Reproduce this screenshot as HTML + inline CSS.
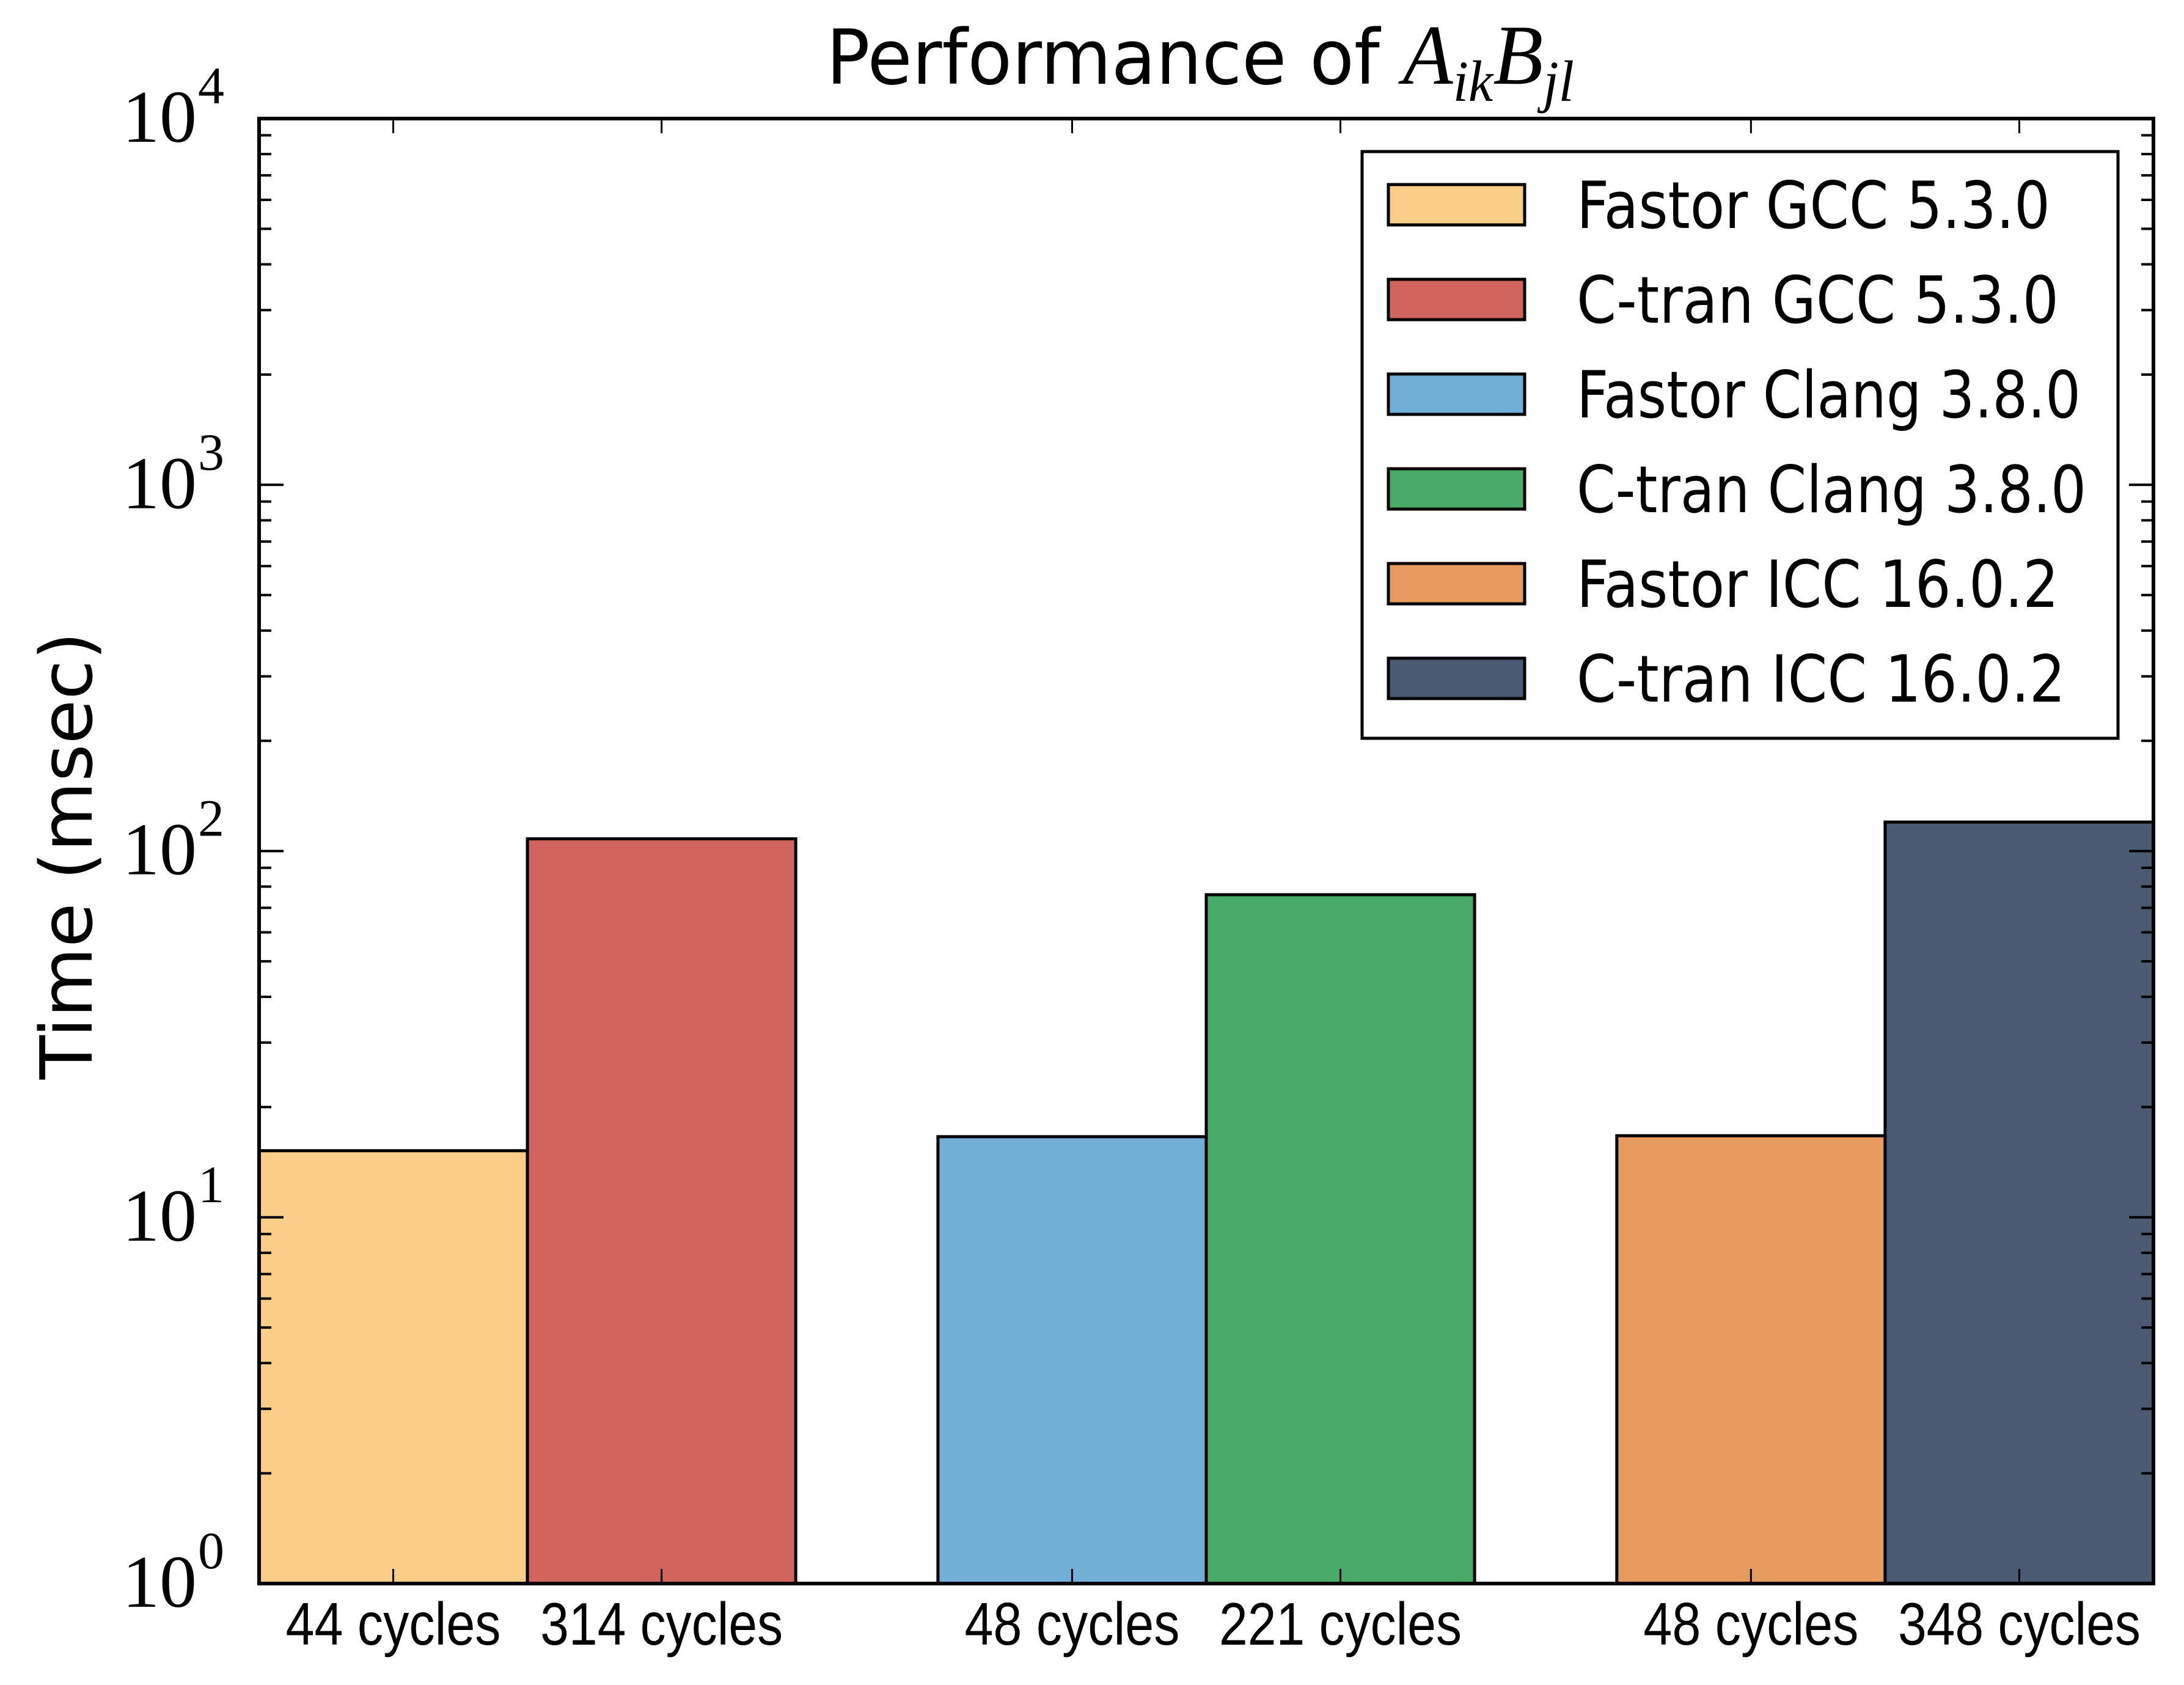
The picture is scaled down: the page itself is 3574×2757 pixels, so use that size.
<!DOCTYPE html>
<html><head><meta charset="utf-8"><style>
html,body{margin:0;padding:0;background:#fff}
svg{display:block}
.t{font-family:"DejaVu Sans","Liberation Sans",sans-serif}
.s{font-family:"Liberation Serif",serif}
.n{font-family:"Liberation Sans Narrow","Liberation Sans",sans-serif}
</style></head><body>
<svg id="chart" width="3574" height="2757" viewBox="0 0 3574 2757" xmlns="http://www.w3.org/2000/svg">
<rect width="3574" height="2757" fill="#fff"/>
<g id="bars"></g>
<g id="axes"></g>
<text class="t" x="1352" y="137" font-size="124" textLength="1224" lengthAdjust="spacingAndGlyphs">Performance of <tspan class="s" font-style="italic" font-size="140">A</tspan><tspan class="s" font-style="italic" font-size="95" dy="28">ik</tspan><tspan class="s" font-style="italic" font-size="140" dy="-28">B</tspan><tspan class="s" font-style="italic" font-size="95" dy="28">jl</tspan></text>
<text class="t" transform="translate(150,1400) rotate(-90)" font-size="118" text-anchor="middle">Time (msec)</text>
<g id="legend"></g>
</svg>
<script>
const categories = ["Fastor GCC 5.3.0","C-tran GCC 5.3.0","Fastor Clang 3.8.0","C-tran Clang 3.8.0","Fastor ICC 16.0.2","C-tran ICC 16.0.2"];
const values = [15.2, 108, 16.6, 76, 16.7, 120];
const cycleLabels = ["44 cycles","314 cycles","48 cycles","221 cycles","48 cycles","348 cycles"];
const colors = ["#f8cd87","#d1645d","#72afd6","#48ab67","#e69b5e","#4b5a73"];
const yTickExps = [0,1,2,3,4];

const NS="http://www.w3.org/2000/svg";
const L=424,R=3524,T=194,B=2591;
const barW=1, groupGap=2.53, xMax=2*groupGap+2;
const xs=v=>L+(v/xMax)*(R-L);
const ys=v=>B-(Math.log10(v)-0)/4*(B-T);
function mk(tag,attrs,parent){const e=document.createElementNS(NS,tag);for(const k in attrs)e.setAttribute(k,attrs[k]);parent.appendChild(e);return e;}
const bars=document.getElementById('bars'),axes=document.getElementById('axes'),leg=document.getElementById('legend');
const pos=values.map((v,i)=>Math.floor(i/2)*groupGap+(i%2)*barW);
values.forEach((v,i)=>{
  const r=mk('rect',{x:xs(pos[i]),y:ys(v),width:xs(pos[i]+barW)-xs(pos[i]),height:B-ys(v),fill:colors[i],stroke:'#000','stroke-width':5},bars);
  
  
  const cx=xs(pos[i]+barW/2);
  mk('line',{x1:cx,x2:cx,y1:B,y2:B-24,stroke:'#000','stroke-width':3},axes);
  mk('line',{x1:cx,x2:cx,y1:T,y2:T+24,stroke:'#000','stroke-width':3},axes);
  const tl=cycleLabels[i].length>9?397:352;
  const t=mk('text',{x:cx,y:B+100,'font-size':98,'text-anchor':'middle',class:'n',textLength:tl,lengthAdjust:'spacingAndGlyphs'},axes);
  t.textContent=cycleLabels[i];
  
  
});
const frame=mk('rect',{x:L,y:T,width:R-L,height:B-T,fill:'none',stroke:'#000','stroke-width':6},axes);


yTickExps.forEach(e=>{
  const y=ys(Math.pow(10,e));
  mk('line',{x1:L,x2:L+40,y1:y,y2:y,stroke:'#000','stroke-width':4},axes);
  mk('line',{x1:R,x2:R-40,y1:y,y2:y,stroke:'#000','stroke-width':4},axes);
  if(e<4){for(let m=2;m<10;m++){const yy=ys(m*Math.pow(10,e));
    mk('line',{x1:L,x2:L+20,y1:yy,y2:yy,stroke:'#000','stroke-width':4},axes);
    mk('line',{x1:R,x2:R-20,y1:yy,y2:yy,stroke:'#000','stroke-width':4},axes);}}
  const t=mk('text',{x:L-102,y:y+38,'font-size':122,'text-anchor':'end',class:'s'},axes);
  t.textContent='10';
  
  
  const s=mk('text',{x:L-100,y:y-25,'font-size':86,'text-anchor':'start',class:'s'},axes);
  s.textContent=String(e);
});
const legendWidths=[775,789,825,834,789,800];
const lb=mk('rect',{x:2229,y:248,width:1237,height:960,fill:'#fff',stroke:'#000','stroke-width':5},leg);


categories.forEach((c,i)=>{
  const cy=335+i*155;
  const p=mk('rect',{x:2272,y:cy-33,width:223,height:66,fill:colors[i],stroke:'#000','stroke-width':5},leg);
  
  
  const t=mk('text',{x:2580,y:cy+38,'font-size':106,class:'t',textLength:legendWidths[i],lengthAdjust:'spacingAndGlyphs'},leg);
  t.textContent=c;
  
  
});
</script>
</body></html>
